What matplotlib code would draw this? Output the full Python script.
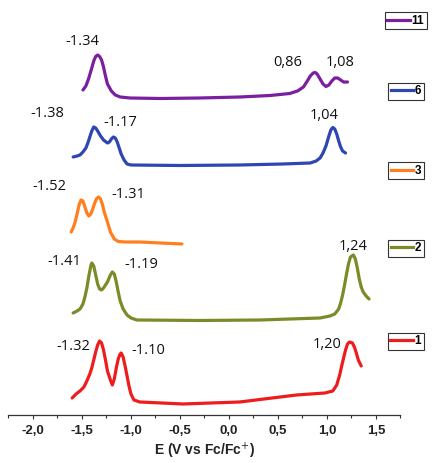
import matplotlib
matplotlib.use("Agg")
import matplotlib.pyplot as plt
from matplotlib.lines import Line2D

# scan 11 (purple)
e_11 = [-1.49, -1.46, -1.43, -1.40, -1.38, -1.36, -1.34, -1.32, -1.30, -1.28, -1.26, -1.24,
        -1.20, -1.16, -1.11, -1.01, -0.70, -0.30, 0.11, 0.42, 0.62, 0.70, 0.76, 0.80, 0.83,
        0.86, 0.88, 0.90, 0.93, 0.96, 0.99, 1.02, 1.05, 1.08, 1.11, 1.14, 1.17, 1.21]
i_11 = [325, 329, 337, 347, 354, 358.5, 360, 358.5, 355, 348, 339, 331,
        324, 320, 318, 317, 316.5, 317, 318, 319.5, 321.5, 324, 328, 334, 339,
        342, 342.5, 341, 336, 331, 328.5, 330, 334, 337, 337, 335, 333, 333]

# scan 6 (blue)
e_6 = [-1.59, -1.55, -1.52, -1.49, -1.46, -1.44, -1.42, -1.40, -1.38, -1.36, -1.34, -1.31,
       -1.28, -1.24, -1.22, -1.20, -1.18, -1.16, -1.14, -1.12, -1.10, -1.07, -1.04, -1.00,
       -0.50, 0.11, 0.55, 0.83, 0.89, 0.93, 0.96, 0.99, 1.02, 1.04, 1.06, 1.08, 1.10, 1.12,
       1.14, 1.16, 1.19]
i_6 = [258, 259, 260, 263, 267, 272, 278, 284, 288, 287, 284, 279,
       275, 272, 273, 276, 278, 277, 273, 267, 261, 255, 251, 250,
       249.5, 250, 251, 252, 254, 257, 262, 269, 279, 285, 287.5, 286, 281, 274,
       268, 264, 262]

# scan 3 (orange)
e_3 = [-1.61, -1.59, -1.57, -1.55, -1.53, -1.51, -1.49, -1.47, -1.45, -1.43, -1.41, -1.39,
       -1.37, -1.35, -1.33, -1.31, -1.29, -1.27, -1.24, -1.21, -1.17, -1.13, -1.06, -0.91,
       -0.70, -0.48]
i_3 = [183, 187, 193, 201, 210, 215, 214, 208, 202, 199, 201, 206,
       212, 216.5, 218, 216, 210, 202, 193, 183, 176, 173.5, 173, 173,
       172, 171]

# scan 2 (olive)
e_2 = [-1.59, -1.55, -1.52, -1.49, -1.47, -1.45, -1.43, -1.41, -1.40, -1.38, -1.36, -1.34,
       -1.32, -1.30, -1.28, -1.24, -1.21, -1.19, -1.17, -1.15, -1.13, -1.11, -1.08, -1.04,
       -1.00, -0.94, -0.30, 0.32, 0.93, 1.03, 1.08, 1.12, 1.14, 1.16, 1.18, 1.20, 1.22, 1.24,
       1.27, 1.29, 1.31, 1.33, 1.35, 1.37, 1.40, 1.43]
i_2 = [102, 104, 106, 111, 118, 127, 139, 149, 152, 149, 140, 131,
       126, 125, 127, 133, 140, 143, 141, 133, 123, 114, 106, 100,
       97, 95, 94.5, 95, 97, 99, 101, 106, 112, 120, 130, 141, 151, 158,
       160, 156, 147, 136, 128, 123, 119, 116]

# scan 1 (red)
e_1 = [-1.60, -1.56, -1.52, -1.48, -1.45, -1.42, -1.40, -1.38, -1.36, -1.34, -1.32, -1.30,
       -1.28, -1.26, -1.24, -1.21, -1.19, -1.17, -1.15, -1.13, -1.11, -1.10, -1.08, -1.06,
       -1.04, -1.02, -1.00, -0.97, -0.91, -0.47, 0.11, 0.69, 0.98, 1.06, 1.10, 1.13, 1.16,
       1.19, 1.21, 1.23, 1.26, 1.28, 1.30, 1.32, 1.35]
i_1 = [17, 21, 24, 28, 34, 41, 47, 55, 63, 70, 74, 72,
       65, 55, 44, 35, 30, 36, 47, 56, 61, 62, 58, 49,
       39, 29, 21, 15, 13, 11, 13, 20, 22, 24, 30, 40, 53,
       65, 71, 73, 72, 68, 62, 55, 49]

series = [
    ("11", e_11, i_11, "#7A1FA0"),
    ("6", e_6, i_6, "#2F45B2"),
    ("3", e_3, i_3, "#FF7F1F"),
    ("2", e_2, i_2, "#7D8A28"),
    ("1", e_1, i_1, "#EE1C1C"),
]

tick_pos = [-2.0, -1.5, -1.0, -0.5, 0.0, 0.5, 1.0, 1.5]
tick_labels = ["-2,0", "-1,5", "-1,0", "-0,5", "0,0", "0,5", "1,0", "1,5"]

# peak labels: (text, E, current)
peak_labels = [
    ("-1.34", -1.50, 373), ("0,86", 0.60, 352), ("1,08", 1.13, 352),
    ("-1.38", -1.85, 301), ("-1.17", -1.11, 292), ("1,04", 0.97, 299),
    ("-1.52", -1.83, 228), ("-1.31", -1.03, 220),
    ("-1.41", -1.68, 153), ("-1.19", -0.89, 150), ("1,24", 1.27, 168),
    ("-1.32", -1.59, 68), ("-1.10", -0.82, 64), ("1,20", 1.00, 70),
]

# legend box centres in figure fractions
legend_y = {"11": 0.955, "6": 0.803, "3": 0.631, "2": 0.464, "1": 0.263}

fig = plt.figure(figsize=(4.35, 4.63), dpi=100)
ax = fig.add_axes([0.0195, 0.1037, 0.901, 0.8963])

for name, e, i, color in series:
    ax.plot(e, i, color=color, linewidth=2.3, solid_capstyle="round")

for text, x, y in peak_labels:
    ax.text(x, y, text, ha="center", va="center", fontsize=10.5,
            family="Open Sans", color="#111111")

ax.set_xlim(-2.25, 1.75)
ax.set_ylim(0, 415)
for side in ["top", "left", "right"]:
    ax.spines[side].set_visible(False)
ax.spines["bottom"].set_color("#333333")
ax.spines["bottom"].set_linewidth(0.9)
ax.set_yticks([])

ax.set_xticks(tick_pos)
ax.set_xticklabels(tick_labels, fontsize=9.5, fontweight="bold",
                   family="Liberation Sans", color="#222222")
ax.set_xticks([t + 0.25 for t in [-2.5] + tick_pos], minor=True)
ax.tick_params(axis="x", which="major", length=3, width=0.8, color="#333333", pad=4)
ax.tick_params(axis="x", which="minor", length=2, width=0.8, color="#333333")
ax.set_xlabel("E (V vs Fc/Fc$^{+}$)", fontsize=10, fontweight="bold",
              family="Liberation Sans", labelpad=3, color="#222222")

for name, e, i, color in series:
    handle = Line2D([0], [0], color=color, linewidth=2.3)
    leg = fig.legend([handle], [name], loc="center",
                     bbox_to_anchor=(0.933, legend_y[name]),
                     prop={"family": "Liberation Sans", "weight": "bold", "size": 8.5},
                     handlelength=1.9, handletextpad=0.15, borderpad=0.2,
                     fancybox=False, framealpha=1, edgecolor="#333333")
    leg.get_frame().set_linewidth(0.8)

fig.savefig("out.png", dpi=100)
